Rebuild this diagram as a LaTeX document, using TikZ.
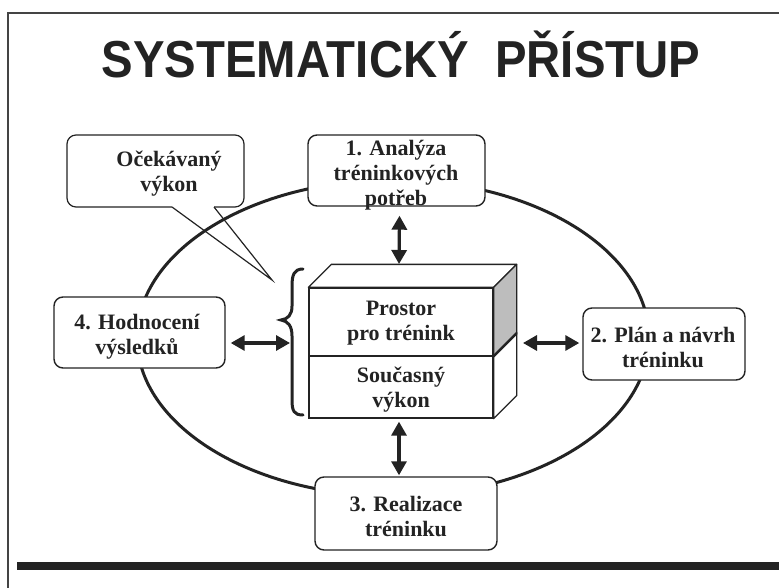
\documentclass[tikz,border=0pt]{standalone}
\usepackage{fontspec}
\setmainfont{Liberation Serif}
\newfontfamily\titlesans{Liberation Sans}
\usetikzlibrary{arrows.meta,calc}
\definecolor{ink}{HTML}{232323}
\definecolor{stipple}{HTML}{BDBDBD}
\begin{document}
\begin{tikzpicture}[x=1pt,y=-1pt,
  stepbox/.style={draw=ink, line width=1.4pt, rounded corners=9pt, fill=white, inner sep=0pt},
  lbl/.style={font=\fontsize{22}{25}\selectfont\bfseries, text=ink, align=center, inner sep=0pt},
  face/.style={draw=ink, line width=1.3pt, fill=white},
  dblarrow/.style={draw=ink, line width=3.2pt,
    {Triangle[length=14pt,width=15pt]}-{Triangle[length=14pt,width=15pt]}},
]
\useasboundingbox (0,0) rectangle (779,588);
\fill[white] (0,0) rectangle (779,588);

% slide frame and footer bar
\draw[ink!85, line width=1.3pt] (8,588) -- (8,13) -- (779,13);
\fill[ink] (17,562) rectangle (779,570);

% title
\node[font=\titlesans\fontsize{52}{52}\selectfont\bfseries, text=ink, anchor=base, inner sep=0pt]
  (title) at (401,78) {\scalebox{0.91}[1]{SYSTEMATICKÝ\ \ PŘÍSTUP}};

% the cycle
\draw[ink, line width=3pt] (393,338) ellipse [x radius=256, y radius=158];

% callout with its pointer
\draw[ink, line width=1.2pt, rounded corners=9pt, fill=white]
  (172,207) -- (67,207) -- (67,135) -- (244,135) -- (244,207) -- (214,207);
\coordinate (tip) at (272,280);
\draw[ink, line width=1.2pt] (172,207) -- (tip) -- (214,207);
\node[lbl] (expect) at (169,174) {Očekávaný\\výkon};

% the four stages
\node[stepbox, minimum width=177pt, minimum height=71pt] (need) at (396.5,170.5) {};
\node[lbl] (needtxt) at (396,175) {1. Analýza\\tréninkových\\potřeb};

\node[stepbox, minimum width=162pt, minimum height=72pt] (plan) at (664,344) {};
\node[lbl] (plantxt) at (663,347) {2. Plán a návrh\\tréninku};

\node[stepbox, minimum width=182pt, minimum height=73pt] (run) at (406,513.5) {};
\node[lbl] (runtxt) at (406,516.5) {3. Realizace\\tréninku};

\node[stepbox, minimum width=171pt, minimum height=71pt] (eval) at (139.5,332.5) {};
\node[lbl] (evaltxt) at (137,337) {4. Hodnocení\\výsledků};

% central block: training gap over current performance
\node[face, minimum width=184pt, minimum height=68pt, inner sep=0pt] (gap) at (401,322) {};
\node[face, minimum width=184pt, minimum height=62pt, inner sep=0pt] (now) at (401,387) {};
\draw[face, line join=round] (gap.north west) -- ++(23,-23) -- ($(gap.north east)+(23,-23)$) -- (gap.north east) -- cycle;
\draw[face, fill=stipple, line join=round] (gap.north east) -- ++(23,-23) -- ($(gap.south east)+(23,-23)$) -- (gap.south east) -- cycle;
\draw[face, line join=round] (now.north east) -- ++(23,-23) -- ($(now.south east)+(23,-23)$) -- (now.south east) -- cycle;
\draw[ink, line width=2pt] (gap.south east) -- ++(23,-23);
\node[lbl] (gaptxt) at (401,323) {Prostor\\pro trénink};
\node[lbl] (nowtxt) at (401,390) {Současný\\výkon};

% brace around the block
\draw[ink, line width=3pt, line cap=round]
  (303,269) .. controls (294,269) and (292,275) .. (292,286) -- (292,306)
  .. controls (292,315) and (288,319) .. (281,320)
  .. controls (288,321) and (292,326) .. (292,336) -- (292,400)
  .. controls (292,411) and (294,415) .. (303,415);
\coordinate (brace) at (290,343);
\coordinate (blocktop) at (399,264);
\coordinate (rightface) at (517,343);

% connectors
\draw[dblarrow] ([shift={(3,9)}]need.south) -- (blocktop);
\draw[dblarrow] ([shift={(-2,3)}]now.south) -- ([shift={(-2,-1)}]now.south |- run.north);
\draw[dblarrow] ([xshift=5pt]eval.east |- brace) -- (brace);
\draw[dblarrow] ([xshift=6pt]rightface) -- ([xshift=-3pt]plan.west |- rightface);
\end{tikzpicture}
\end{document}
